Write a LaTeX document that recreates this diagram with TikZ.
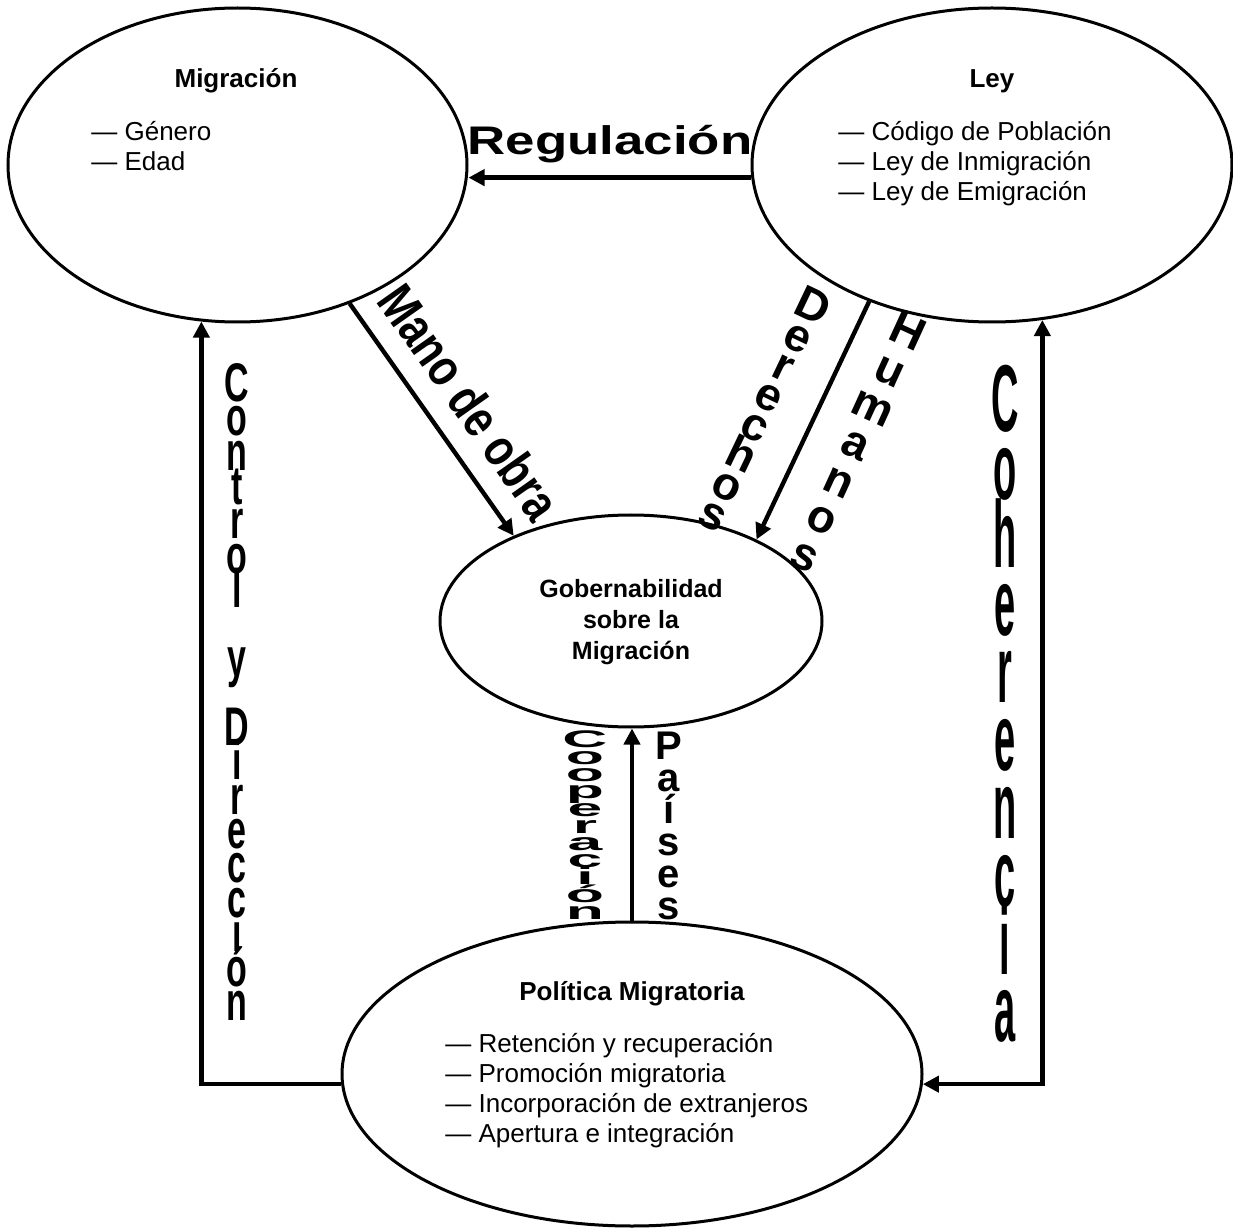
\documentclass[tikz,border=0pt]{standalone}
\usepackage{fontspec}
\setmainfont{Liberation Sans}
\usepackage{graphicx}
\usetikzlibrary{shapes.geometric,arrows.meta}

% letters stacked one over the other, fixed pitch
\newcommand{\vstack}[2]{\vbox{\baselineskip=#1\relax\lineskiplimit=-\maxdimen\let\\\cr
  \halign{\hfil##\hfil\cr#2\crcr}}}

\begin{document}
\begin{tikzpicture}[x=0.5pt,y=-0.5pt,
    bubble/.style={draw,ellipse,line width=1.5pt,inner sep=0pt},
    arr/.style={line width=2.2pt,-{Triangle[length=8pt,width=8pt]}},
    arrs/.style={line width=2.2pt,{Triangle[length=8pt,width=8pt]}-{Triangle[length=8pt,width=8pt]}},
    head/.style={anchor=base,font=\bfseries\fontsize{13}{15}\selectfont},
    items/.style={align=left,inner sep=0pt,anchor=west,font=\fontsize{13}{15}\selectfont}]
    \useasboundingbox (0,0) rectangle (1233,1230);

    \node[bubble,minimum width=229.5pt,minimum height=157pt](mig) at (237.5,165){};
    \node[bubble,minimum width=240pt,minimum height=157pt](ley) at (992,165){};
    \node[bubble,minimum width=191pt,minimum height=106pt](gob) at (631,621){};
    \node[bubble,minimum width=290pt,minimum height=152pt](pol) at (632,1074){};

    \node[head](migt) at (236,88){Migración};
    \node[items](migl) at (91,146){— Género\\— Edad};
    \node[head](leyt) at (992,88){Ley};
    \node[items](leyl) at (838,164){— Código de Población\\— Ley de Inmigración\\— Ley de Emigración};
    \node[head,anchor=center,align=center,font=\bfseries\fontsize{12.5}{15.5}\selectfont](gobt) at (631,622){Gobernabilidad\\sobre la\\Migración};
    \node[head](polt) at (632,1000){Política Migratoria};
    \node[items](poll) at (445,1091){— Retención y recuperación\\— Promoción migratoria\\— Incorporación de extranjeros\\— Apertura e integración};

    \draw[arr](ley.183)--(ley.183 -| mig.east);
    \node[anchor=base,font=\bfseries\fontsize{19}{19}\selectfont](regl) at (610,155){\scalebox{1.39}[1.05]{Regulación}};

    \draw[arr](mig.-51.6)--(gob.144.8);
    \node[rotate=-54.8,font=\bfseries\fontsize{21}{21}\selectfont](mano) at (470,402){\scalebox{1}[1.25]{Mano de obra}};

    \draw[arr](ley.228.4)--(gob.33.2);
    \node[rotate=-25.5,font=\bfseries\fontsize{23}{23}\selectfont](der) at (763,410){\vstack{16.5pt}{D\\e\\r\\e\\c\\h\\o\\s}};
    \node[rotate=-24.6,font=\bfseries\fontsize{23}{23}\selectfont](hum) at (857,443){\vstack{20.4pt}{H\\u\\m\\a\\n\\o\\s}};

    \draw[arr](pol.north)--(pol.north |- gob.south);
    \node[font=\bfseries\fontsize{12}{12}\selectfont](coop) at (585,825){\scalebox{2.6}[1]{\vstack{8.6pt}{C\\o\\o\\p\\e\\r\\a\\c\\i\\ó\\n}}};
    \node[font=\bfseries\fontsize{20}{20}\selectfont](pais) at (669,826){\vstack{16pt}{P\\a\\í\\s\\e\\s}};

    \draw[arr](pol.182)-|(mig.257.5);
    \node[font=\bfseries\fontsize{17}{17}\selectfont](ctrl) at (237,692){\scalebox{1}[1.6]{\vstack{10.75pt}{C\\o\\n\\t\\r\\o\\l\\~\\y\\~\\D\\i\\r\\e\\c\\c\\i\\ó\\n}}};

    \draw[arrs](ley.-72.7)|-(pol.-2.6);
    \node[font=\bfseries\fontsize{19}{19}\selectfont](coh) at (1005,704){\scalebox{1}[2.5]{\vstack{13.56pt}{C\\o\\h\\e\\r\\e\\n\\c\\i\\a}}};
\end{tikzpicture}
\end{document}
